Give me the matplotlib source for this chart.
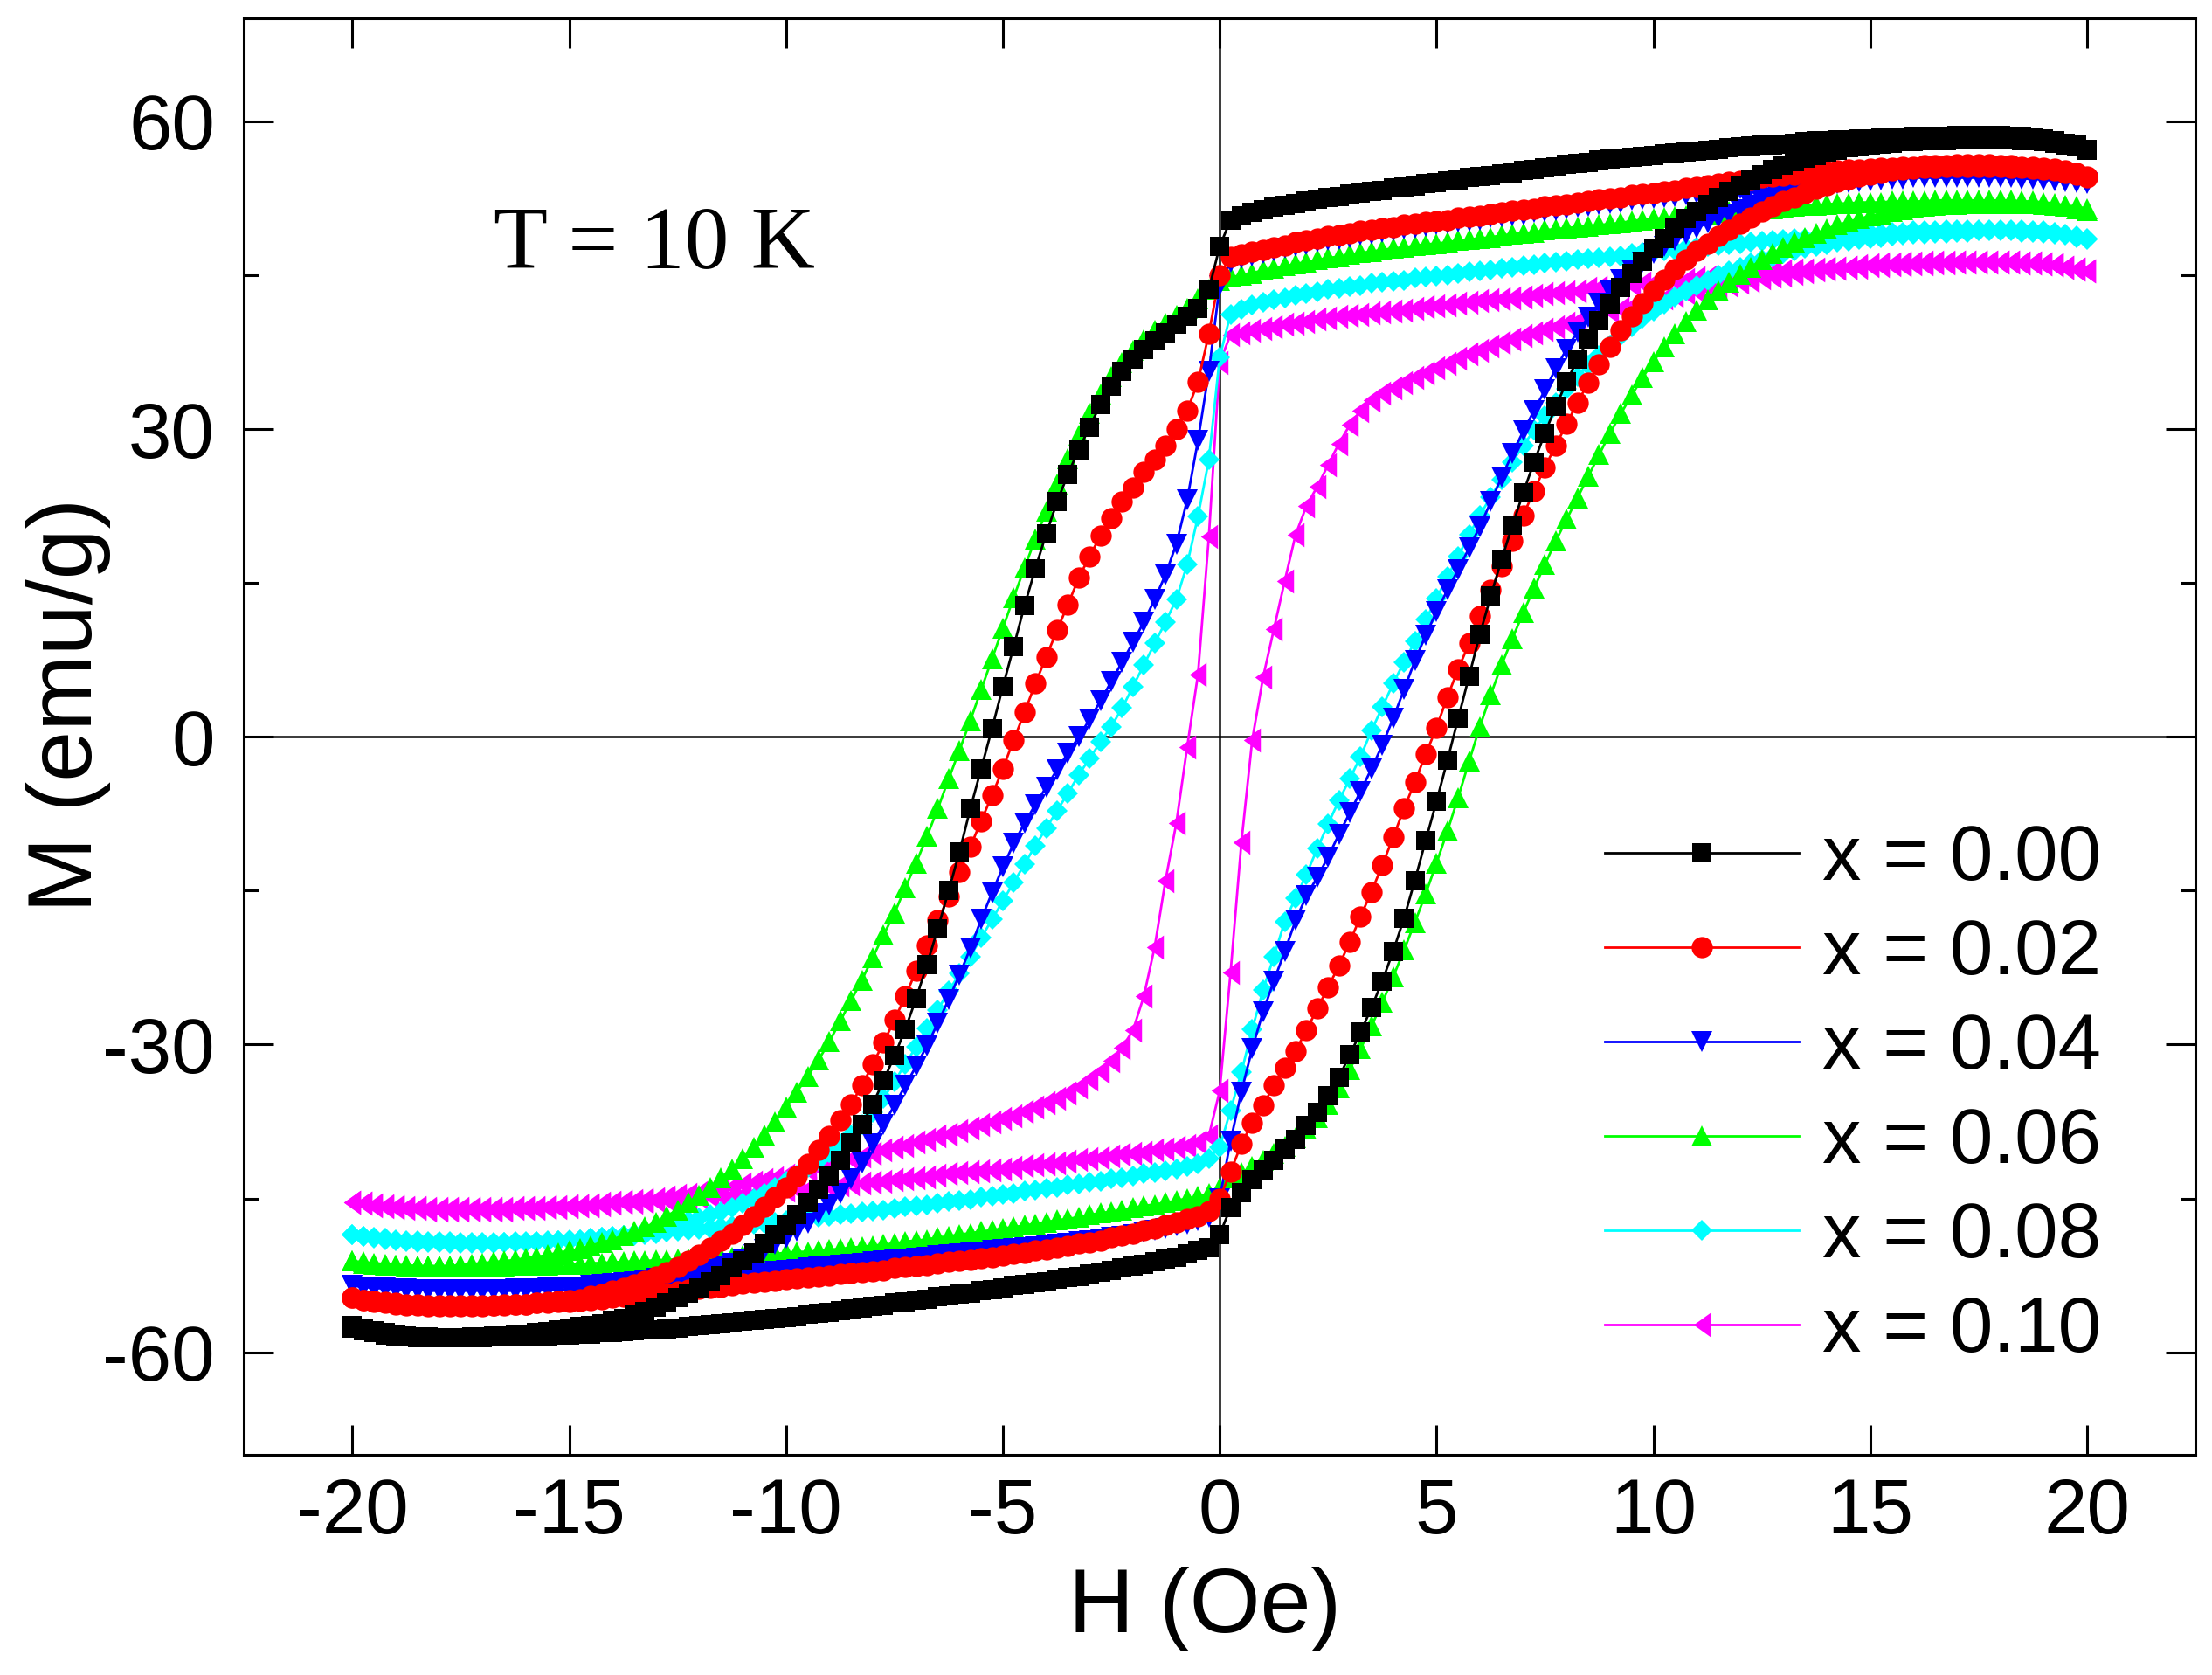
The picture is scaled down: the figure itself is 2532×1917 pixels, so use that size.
import numpy as np
import matplotlib
matplotlib.use('Agg')
import matplotlib.pyplot as plt
from matplotlib.ticker import MultipleLocator

# field sweep, 0.25 Oe steps from -20 to 20 Oe
H_STEP = 0.25
field = np.arange(-20, 20 + H_STEP / 2, H_STEP)

# M (emu/g) on the descending (dn) and ascending (up) branch, listed for increasing H
m000_dn = [
    -57.6, -57.9, -58.1, -58.3, -58.4, -58.5, -58.6, -58.6,
    -58.6, -58.6, -58.6, -58.5, -58.5, -58.4, -58.4, -58.3,
    -58.2, -58.1, -58.0, -57.8, -57.7, -57.5, -57.4, -57.2,
    -56.9, -56.7, -56.4, -56.0, -55.6, -55.2, -54.7, -54.2,
    -53.7, -53.1, -52.5, -51.8, -51.1, -50.3, -49.4, -48.5,
    -47.6, -46.6, -45.4, -44.1, -42.8, -41.3, -39.6, -37.8,
    -35.8, -33.5, -31.1, -28.5, -25.5, -22.2, -18.7, -15.0,
    -11.2, -7.0, -3.1, 0.8, 4.9, 8.8, 12.8, 16.4,
    19.8, 22.9, 25.6, 28.0, 30.2, 32.4, 34.2, 35.6,
    36.8, 37.8, 38.6, 39.4, 40.2, 41.0, 41.8, 43.6,
    47.8, 50.4, 50.8, 51.1, 51.4, 51.6, 51.8, 52.0,
    52.2, 52.4, 52.6, 52.7, 52.9, 53.0, 53.2, 53.3,
    53.5, 53.6, 53.7, 53.9, 54.0, 54.2, 54.3, 54.5,
    54.6, 54.7, 54.9, 55.0, 55.2, 55.3, 55.5, 55.6,
    55.8, 55.9, 56.0, 56.2, 56.3, 56.4, 56.5, 56.6,
    56.7, 56.8, 56.9, 57.0, 57.1, 57.2, 57.3, 57.4,
    57.5, 57.6, 57.7, 57.7, 57.8, 57.9, 58.0, 58.1,
    58.1, 58.2, 58.2, 58.3, 58.3, 58.4, 58.4, 58.4,
    58.5, 58.5, 58.5, 58.5, 58.6, 58.6, 58.6, 58.6,
    58.6, 58.5, 58.5, 58.4, 58.3, 58.1, 57.9, 57.7,
    57.3]
m000_up = [
    -57.4, -57.7, -57.9, -58.1, -58.3, -58.4, -58.5, -58.5,
    -58.6, -58.6, -58.6, -58.6, -58.6, -58.5, -58.5, -58.5,
    -58.4, -58.4, -58.4, -58.3, -58.3, -58.2, -58.2, -58.1,
    -58.1, -58.0, -57.9, -57.8, -57.8, -57.7, -57.6, -57.5,
    -57.4, -57.3, -57.2, -57.1, -57.0, -56.9, -56.8, -56.7,
    -56.6, -56.5, -56.3, -56.2, -56.1, -55.9, -55.8, -55.7,
    -55.5, -55.4, -55.2, -55.1, -54.9, -54.8, -54.6, -54.5,
    -54.3, -54.2, -54.0, -53.9, -53.7, -53.5, -53.4, -53.2,
    -53.1, -52.9, -52.7, -52.6, -52.4, -52.2, -52.0, -51.8,
    -51.6, -51.4, -51.2, -50.9, -50.7, -50.4, -50.1, -49.8,
    -48.5, -45.9, -44.4, -43.2, -42.2, -41.3, -40.2, -39.2,
    -37.9, -36.6, -35.0, -33.2, -31.0, -28.8, -26.4, -23.8,
    -20.9, -17.7, -14.0, -10.1, -6.3, -2.3, 1.8, 5.9,
    10.0, 13.7, 17.3, 20.6, 23.8, 26.8, 29.6, 32.2,
    34.6, 36.8, 38.8, 40.6, 42.2, 43.8, 45.2, 46.4,
    47.6, 48.6, 49.6, 50.5, 51.2, 51.9, 52.6, 53.2,
    53.8, 54.3, 54.8, 55.3, 55.7, 56.1, 56.4, 56.7,
    57.0, 57.2, 57.4, 57.6, 57.7, 57.8, 57.9, 58.0,
    58.0, 58.1, 58.1, 58.1, 58.2, 58.2, 58.2, 58.2,
    58.2, 58.2, 58.1, 58.1, 58.0, 57.9, 57.7, 57.5,
    57.2]

m002_dn = [
    -54.7, -54.9, -55.1, -55.2, -55.3, -55.4, -55.4, -55.5,
    -55.5, -55.5, -55.5, -55.5, -55.5, -55.4, -55.4, -55.3,
    -55.3, -55.2, -55.1, -55.0, -54.9, -54.8, -54.5, -54.3,
    -54.0, -53.7, -53.4, -53.0, -52.6, -52.2, -51.7, -51.1,
    -50.5, -49.8, -49.1, -48.4, -47.6, -46.7, -45.8, -44.9,
    -43.9, -42.8, -41.6, -40.3, -38.9, -37.4, -35.8, -34.0,
    -31.9, -29.8, -27.6, -25.3, -22.8, -20.3, -17.9, -15.6,
    -13.2, -10.7, -8.2, -5.7, -3.1, -0.3, 2.4, 5.2,
    7.8, 10.4, 12.9, 15.5, 17.6, 19.6, 21.3, 22.9,
    24.3, 25.8, 27.0, 28.4, 30.0, 31.8, 34.6, 39.3,
    45.0, 46.8, 47.0, 47.3, 47.5, 47.7, 47.9, 48.2,
    48.4, 48.6, 48.8, 48.9, 49.1, 49.3, 49.4, 49.6,
    49.7, 49.9, 50.0, 50.2, 50.3, 50.4, 50.6, 50.7,
    50.8, 51.0, 51.1, 51.3, 51.4, 51.5, 51.7, 51.8,
    51.9, 52.1, 52.2, 52.4, 52.5, 52.6, 52.8, 52.9,
    53.0, 53.2, 53.3, 53.5, 53.6, 53.8, 53.9, 54.1,
    54.2, 54.3, 54.5, 54.6, 54.7, 54.8, 54.9, 55.0,
    55.1, 55.2, 55.3, 55.3, 55.4, 55.5, 55.5, 55.6,
    55.6, 55.7, 55.7, 55.7, 55.8, 55.8, 55.8, 55.8,
    55.7, 55.7, 55.6, 55.6, 55.5, 55.4, 55.2, 55.0,
    54.6]
m002_up = [
    -54.7, -54.9, -55.0, -55.1, -55.2, -55.3, -55.3, -55.4,
    -55.4, -55.4, -55.4, -55.4, -55.4, -55.4, -55.3, -55.3,
    -55.3, -55.2, -55.2, -55.1, -55.1, -55.0, -54.9, -54.8,
    -54.7, -54.6, -54.5, -54.4, -54.3, -54.2, -54.1, -53.9,
    -53.8, -53.7, -53.6, -53.5, -53.3, -53.2, -53.1, -53.0,
    -52.9, -52.8, -52.7, -52.6, -52.5, -52.4, -52.3, -52.2,
    -52.1, -52.0, -51.8, -51.7, -51.6, -51.5, -51.3, -51.2,
    -51.1, -51.0, -50.8, -50.7, -50.6, -50.4, -50.3, -50.1,
    -50.0, -49.8, -49.6, -49.4, -49.3, -49.1, -48.8, -48.6,
    -48.4, -48.1, -47.9, -47.6, -47.3, -47.0, -46.7, -46.2,
    -45.0, -42.4, -39.7, -37.6, -35.9, -34.0, -32.3, -30.6,
    -28.6, -26.5, -24.4, -22.3, -20.0, -17.5, -15.1, -12.5,
    -9.8, -7.0, -4.4, -1.7, 0.9, 3.9, 6.6, 9.1,
    11.8, 14.3, 16.6, 19.1, 21.6, 24.0, 26.3, 28.4,
    30.5, 32.6, 34.5, 36.3, 38.0, 39.6, 41.0, 42.3,
    43.5, 44.6, 45.6, 46.5, 47.4, 48.1, 48.8, 49.4,
    50.0, 50.6, 51.2, 51.7, 52.2, 52.6, 53.0, 53.4,
    53.8, 54.1, 54.4, 54.6, 54.8, 55.0, 55.2, 55.3,
    55.4, 55.5, 55.5, 55.6, 55.6, 55.6, 55.6, 55.6,
    55.6, 55.5, 55.5, 55.4, 55.3, 55.2, 55.0, 54.8,
    54.5]

m004_dn = [
    -53.5, -53.6, -53.7, -53.7, -53.8, -53.8, -53.9, -53.9,
    -53.9, -53.9, -53.9, -53.9, -53.9, -53.9, -53.9, -53.8,
    -53.8, -53.8, -53.7, -53.7, -53.6, -53.6, -53.5, -53.4,
    -53.3, -53.2, -53.1, -53.0, -52.8, -52.7, -52.5, -52.3,
    -52.1, -51.9, -51.6, -51.3, -50.9, -50.5, -50.0, -49.5,
    -48.9, -48.2, -47.4, -46.5, -45.6, -44.5, -43.1, -41.5,
    -39.7, -37.8, -35.9, -34.0, -32.1, -30.1, -27.9, -25.6,
    -23.2, -20.6, -17.8, -15.2, -12.7, -10.4, -8.4, -6.6,
    -4.9, -3.2, -1.6, 0.0, 1.7, 3.5, 5.4, 7.3,
    9.2, 11.2, 13.4, 15.8, 18.8, 23.1, 28.9, 35.6,
    44.0, 46.3, 46.6, 46.9, 47.1, 47.4, 47.6, 47.8,
    48.0, 48.2, 48.4, 48.5, 48.7, 48.9, 49.0, 49.2,
    49.3, 49.5, 49.6, 49.8, 49.9, 50.0, 50.2, 50.3,
    50.4, 50.6, 50.7, 50.8, 50.9, 51.1, 51.2, 51.3,
    51.5, 51.6, 51.7, 51.9, 52.0, 52.1, 52.3, 52.4,
    52.5, 52.6, 52.7, 52.8, 53.0, 53.1, 53.2, 53.3,
    53.4, 53.5, 53.6, 53.7, 53.8, 53.9, 54.0, 54.1,
    54.2, 54.3, 54.3, 54.4, 54.5, 54.5, 54.6, 54.6,
    54.6, 54.7, 54.7, 54.7, 54.7, 54.7, 54.7, 54.7,
    54.7, 54.7, 54.6, 54.6, 54.5, 54.4, 54.3, 54.2,
    54.0]
m004_up = [
    -53.5, -53.6, -53.7, -53.8, -53.8, -53.9, -53.9, -54.0,
    -54.0, -54.0, -54.0, -54.0, -54.0, -54.0, -54.0, -54.0,
    -54.0, -54.0, -53.9, -53.9, -53.9, -53.9, -53.8, -53.8,
    -53.7, -53.6, -53.6, -53.5, -53.4, -53.3, -53.2, -53.1,
    -53.0, -52.9, -52.8, -52.6, -52.5, -52.4, -52.3, -52.1,
    -52.0, -51.9, -51.8, -51.7, -51.6, -51.5, -51.4, -51.3,
    -51.2, -51.1, -51.0, -50.9, -50.8, -50.7, -50.6, -50.5,
    -50.4, -50.3, -50.2, -50.1, -50.0, -49.9, -49.8, -49.7,
    -49.6, -49.5, -49.4, -49.2, -49.1, -49.0, -48.8, -48.7,
    -48.5, -48.3, -48.1, -47.9, -47.7, -47.5, -47.2, -46.8,
    -45.0, -39.4, -34.6, -30.4, -26.8, -23.8, -20.9, -17.9,
    -15.5, -13.7, -11.7, -9.5, -7.4, -5.3, -3.1, -0.8,
    1.8, 4.6, 7.4, 9.9, 12.2, 14.3, 16.3, 18.4,
    20.5, 22.9, 25.3, 27.6, 29.8, 31.8, 33.8, 35.9,
    37.8, 39.5, 40.9, 42.3, 43.5, 44.6, 45.5, 46.3,
    47.1, 47.8, 48.4, 49.0, 49.6, 50.1, 50.6, 51.0,
    51.4, 51.8, 52.2, 52.5, 52.8, 53.1, 53.3, 53.5,
    53.7, 53.9, 54.0, 54.1, 54.2, 54.3, 54.4, 54.4,
    54.5, 54.5, 54.5, 54.5, 54.5, 54.5, 54.5, 54.5,
    54.5, 54.5, 54.4, 54.4, 54.3, 54.2, 54.1, 54.0,
    53.9]

m006_dn = [
    -51.1, -51.3, -51.4, -51.5, -51.5, -51.6, -51.6, -51.6,
    -51.6, -51.6, -51.5, -51.4, -51.3, -51.2, -51.1, -51.0,
    -50.8, -50.7, -50.5, -50.3, -50.1, -49.9, -49.6, -49.3,
    -49.0, -48.6, -48.2, -47.8, -47.3, -46.7, -46.1, -45.4,
    -44.7, -43.9, -43.0, -42.1, -41.1, -40.0, -38.8, -37.5,
    -36.1, -34.6, -33.1, -31.5, -29.7, -27.7, -25.7, -23.7,
    -21.5, -19.3, -17.2, -14.7, -12.3, -9.7, -7.0, -4.1,
    -1.3, 1.6, 4.6, 7.6, 10.6, 13.6, 16.5, 19.3,
    22.0, 24.6, 27.1, 29.4, 31.5, 33.4, 35.1, 36.5,
    37.7, 38.7, 39.6, 40.3, 41.1, 41.8, 42.7, 43.6,
    44.5, 44.8, 45.0, 45.2, 45.5, 45.7, 45.9, 46.1,
    46.3, 46.5, 46.7, 46.8, 47.0, 47.2, 47.3, 47.5,
    47.6, 47.7, 47.9, 48.0, 48.1, 48.2, 48.4, 48.5,
    48.6, 48.7, 48.9, 49.0, 49.1, 49.2, 49.4, 49.5,
    49.6, 49.7, 49.8, 49.9, 50.0, 50.1, 50.3, 50.4,
    50.5, 50.6, 50.7, 50.8, 50.9, 51.0, 51.1, 51.2,
    51.3, 51.4, 51.5, 51.5, 51.6, 51.7, 51.8, 51.8,
    51.9, 52.0, 52.0, 52.1, 52.1, 52.1, 52.2, 52.2,
    52.2, 52.2, 52.3, 52.3, 52.3, 52.3, 52.3, 52.3,
    52.3, 52.3, 52.2, 52.2, 52.1, 52.0, 51.8, 51.7,
    51.5]
m006_up = [
    -51.1, -51.2, -51.3, -51.4, -51.5, -51.5, -51.6, -51.6,
    -51.6, -51.6, -51.6, -51.6, -51.6, -51.6, -51.6, -51.5,
    -51.5, -51.5, -51.5, -51.4, -51.4, -51.4, -51.3, -51.3,
    -51.2, -51.2, -51.1, -51.1, -51.0, -51.0, -50.9, -50.9,
    -50.8, -50.8, -50.7, -50.7, -50.6, -50.5, -50.5, -50.4,
    -50.3, -50.2, -50.2, -50.1, -50.0, -49.9, -49.8, -49.7,
    -49.6, -49.5, -49.4, -49.2, -49.1, -49.0, -48.8, -48.7,
    -48.5, -48.4, -48.2, -48.1, -47.9, -47.8, -47.6, -47.5,
    -47.3, -47.1, -47.0, -46.8, -46.6, -46.4, -46.3, -46.1,
    -45.9, -45.7, -45.6, -45.4, -45.2, -45.0, -44.8, -44.5,
    -44.0, -43.0, -42.5, -41.9, -41.3, -40.6, -39.9, -39.1,
    -38.2, -37.1, -35.8, -34.2, -32.4, -30.4, -28.2, -25.9,
    -23.4, -20.8, -18.1, -15.3, -12.3, -9.2, -5.9, -2.4,
    1.0, 4.1, 7.0, 9.6, 12.1, 14.5, 16.8, 19.1,
    21.2, 23.3, 25.4, 27.5, 29.6, 31.5, 33.3, 35.0,
    36.6, 38.0, 39.3, 40.5, 41.6, 42.6, 43.5, 44.3,
    45.1, 45.8, 46.5, 47.1, 47.7, 48.2, 48.7, 49.1,
    49.5, 49.9, 50.2, 50.5, 50.8, 51.0, 51.2, 51.4,
    51.6, 51.7, 51.8, 51.9, 51.9, 52.0, 52.0, 52.0,
    52.0, 52.0, 52.0, 52.0, 51.9, 51.8, 51.7, 51.5,
    51.3]

m008_dn = [
    -48.5, -48.7, -48.9, -49.0, -49.1, -49.2, -49.3, -49.3,
    -49.3, -49.4, -49.4, -49.4, -49.4, -49.4, -49.3, -49.3,
    -49.3, -49.2, -49.2, -49.1, -49.1, -49.0, -48.9, -48.8,
    -48.7, -48.6, -48.4, -48.2, -48.0, -47.8, -47.5, -47.2,
    -46.9, -46.6, -46.3, -45.9, -45.5, -45.0, -44.5, -43.9,
    -43.3, -42.7, -42.0, -41.3, -40.5, -39.7, -38.8, -37.8,
    -36.6, -35.2, -33.6, -31.9, -30.2, -28.4, -26.6, -24.8,
    -23.1, -21.4, -19.6, -17.8, -16.0, -14.2, -12.4, -10.6,
    -8.9, -7.2, -5.5, -3.7, -2.1, -0.5, 1.0, 2.8,
    4.9, 7.0, 9.1, 11.2, 13.4, 16.8, 21.5, 27.0,
    37.0, 41.2, 41.7, 42.1, 42.4, 42.6, 42.8, 43.0,
    43.2, 43.4, 43.6, 43.7, 43.9, 44.0, 44.2, 44.3,
    44.4, 44.5, 44.7, 44.8, 44.9, 45.0, 45.2, 45.3,
    45.4, 45.5, 45.7, 45.8, 45.9, 46.0, 46.2, 46.3,
    46.4, 46.5, 46.6, 46.7, 46.8, 46.9, 47.1, 47.2,
    47.3, 47.4, 47.5, 47.6, 47.7, 47.8, 47.9, 48.0,
    48.1, 48.2, 48.3, 48.4, 48.5, 48.6, 48.6, 48.7,
    48.8, 48.9, 48.9, 49.0, 49.1, 49.1, 49.2, 49.2,
    49.3, 49.3, 49.3, 49.4, 49.4, 49.4, 49.4, 49.4,
    49.4, 49.4, 49.4, 49.3, 49.3, 49.2, 49.0, 48.8,
    48.6]
m008_up = [
    -48.5, -48.7, -48.8, -48.9, -49.0, -49.1, -49.1, -49.2,
    -49.2, -49.2, -49.3, -49.3, -49.3, -49.3, -49.3, -49.2,
    -49.2, -49.2, -49.1, -49.1, -49.0, -49.0, -48.9, -48.8,
    -48.7, -48.6, -48.6, -48.5, -48.4, -48.3, -48.2, -48.1,
    -48.0, -47.9, -47.8, -47.7, -47.6, -47.5, -47.4, -47.3,
    -47.2, -47.1, -46.9, -46.8, -46.7, -46.6, -46.5, -46.3,
    -46.2, -46.1, -46.0, -45.8, -45.7, -45.6, -45.5, -45.3,
    -45.2, -45.1, -44.9, -44.8, -44.6, -44.5, -44.3, -44.2,
    -44.0, -43.9, -43.7, -43.6, -43.4, -43.3, -43.1, -43.0,
    -42.8, -42.6, -42.5, -42.3, -42.1, -41.9, -41.6, -41.1,
    -40.0, -36.4, -32.7, -28.5, -24.7, -21.4, -18.0, -15.7,
    -13.4, -10.9, -8.5, -6.2, -4.1, -1.9, 0.6, 2.9,
    5.2, 7.3, 9.3, 11.4, 13.5, 15.6, 17.6, 19.7,
    21.6, 23.4, 25.1, 26.8, 28.4, 29.9, 31.3, 32.6,
    33.9, 35.1, 36.2, 37.2, 38.2, 39.1, 40.0, 40.8,
    41.5, 42.2, 42.9, 43.5, 44.0, 44.5, 45.0, 45.4,
    45.8, 46.2, 46.5, 46.8, 47.1, 47.4, 47.6, 47.8,
    48.0, 48.2, 48.3, 48.5, 48.6, 48.7, 48.8, 48.9,
    49.0, 49.0, 49.1, 49.1, 49.2, 49.2, 49.3, 49.3,
    49.3, 49.3, 49.2, 49.2, 49.1, 49.0, 48.9, 48.7,
    48.5]

m010_dn = [
    -45.4, -45.5, -45.6, -45.7, -45.8, -45.9, -45.9, -46.0,
    -46.0, -46.0, -46.0, -46.0, -46.0, -46.0, -46.0, -45.9,
    -45.9, -45.9, -45.8, -45.8, -45.7, -45.7, -45.6, -45.5,
    -45.4, -45.3, -45.2, -45.1, -45.0, -44.9, -44.7, -44.6,
    -44.4, -44.2, -44.0, -43.8, -43.6, -43.4, -43.2, -43.0,
    -42.7, -42.5, -42.2, -42.0, -41.7, -41.4, -41.1, -40.9,
    -40.6, -40.3, -40.0, -39.8, -39.5, -39.2, -38.9, -38.7,
    -38.4, -38.1, -37.8, -37.5, -37.2, -36.9, -36.5, -36.1,
    -35.7, -35.2, -34.7, -34.1, -33.4, -32.6, -31.6, -30.3,
    -28.6, -25.3, -20.5, -14.0, -8.4, -1.0, 6.1, 19.5,
    36.5, 39.2, 39.4, 39.6, 39.8, 40.0, 40.2, 40.3,
    40.5, 40.7, 40.8, 41.0, 41.1, 41.2, 41.3, 41.4,
    41.5, 41.6, 41.8, 41.9, 42.0, 42.1, 42.3, 42.4,
    42.5, 42.6, 42.7, 42.8, 42.9, 43.0, 43.2, 43.3,
    43.4, 43.5, 43.7, 43.8, 43.9, 44.0, 44.1, 44.2,
    44.3, 44.4, 44.5, 44.6, 44.7, 44.8, 44.9, 45.0,
    45.1, 45.2, 45.2, 45.3, 45.4, 45.5, 45.5, 45.6,
    45.7, 45.7, 45.8, 45.8, 45.9, 45.9, 46.0, 46.0,
    46.1, 46.1, 46.2, 46.2, 46.3, 46.3, 46.3, 46.3,
    46.3, 46.3, 46.2, 46.2, 46.1, 46.0, 45.8, 45.6,
    45.4]
m010_up = [
    -45.4, -45.5, -45.7, -45.8, -45.9, -46.0, -46.0, -46.1,
    -46.1, -46.1, -46.1, -46.1, -46.1, -46.1, -46.1, -46.0,
    -46.0, -46.0, -45.9, -45.9, -45.8, -45.7, -45.7, -45.6,
    -45.5, -45.4, -45.4, -45.3, -45.2, -45.1, -45.1, -45.0,
    -44.9, -44.8, -44.8, -44.7, -44.6, -44.5, -44.4, -44.3,
    -44.2, -44.1, -44.0, -43.9, -43.8, -43.7, -43.6, -43.5,
    -43.4, -43.3, -43.2, -43.1, -43.0, -42.9, -42.7, -42.6,
    -42.5, -42.4, -42.3, -42.2, -42.1, -42.0, -41.8, -41.7,
    -41.6, -41.5, -41.4, -41.2, -41.1, -41.0, -40.9, -40.7,
    -40.6, -40.5, -40.3, -40.2, -40.0, -39.8, -39.5, -38.9,
    -34.5, -23.0, -10.3, -0.3, 5.8, 10.5, 15.2, 19.7,
    22.5, 24.4, 26.5, 28.6, 30.4, 31.8, 32.8, 33.5,
    34.0, 34.5, 35.0, 35.5, 36.0, 36.4, 36.9, 37.3,
    37.7, 38.1, 38.4, 38.8, 39.1, 39.4, 39.7, 40.0,
    40.3, 40.6, 40.9, 41.2, 41.5, 41.8, 42.0, 42.3,
    42.5, 42.8, 43.0, 43.3, 43.5, 43.7, 43.9, 44.1,
    44.3, 44.5, 44.7, 44.9, 45.0, 45.2, 45.3, 45.5,
    45.6, 45.7, 45.8, 45.9, 46.0, 46.1, 46.1, 46.2,
    46.2, 46.3, 46.3, 46.3, 46.3, 46.3, 46.3, 46.3,
    46.3, 46.3, 46.2, 46.2, 46.1, 46.0, 45.8, 45.6,
    45.4]

labels = ['x = 0.00', 'x = 0.02', 'x = 0.04', 'x = 0.06', 'x = 0.08', 'x = 0.10']
branches_dn = [m000_dn, m002_dn, m004_dn, m006_dn, m008_dn, m010_dn]
branches_up = [m000_up, m002_up, m004_up, m006_up, m008_up, m010_up]

colors = ['#000000', '#ff0000', '#0000ff', '#00ff00', '#00ffff', '#ff00ff']
# left-pointing triangle a bit taller than wide, like the original symbol
left_tri = [(-0.7, 0.0), (0.7, 1.0), (0.7, -1.0)]
markers = ['s', 'o', 'v', '^', 'D', left_tri]
msizes = [16.5, 17.5, 17, 17, 12.5, 20]

for b in branches_dn + branches_up:
    if len(b) != len(field):
        raise ValueError('branch length %d != %d' % (len(b), len(field)))

plt.rcParams['font.family'] = ['Liberation Sans', 'DejaVu Sans']
plt.rcParams['axes.unicode_minus'] = False

fig = plt.figure(figsize=(25.32, 19.17), dpi=100)
ax = fig.add_axes([0.1103, 0.1314, 0.8822, 0.8574])

ax.axhline(0, color='k', lw=1.8, zorder=0.5)
ax.axvline(0, color='k', lw=1.8, zorder=0.5)

for i in range(len(labels)):
    z = 10 - i
    style = dict(color=colors[i], marker=markers[i], ms=msizes[i], mew=0, lw=2.0, zorder=z)
    ax.plot(field, branches_dn[i], label=labels[i], **style)
    ax.plot(field, branches_up[i], **style)

ax.set_xlim(-22.5, 22.5)
ax.set_ylim(-70, 70)
ax.xaxis.set_major_locator(MultipleLocator(5))
ax.yaxis.set_major_locator(MultipleLocator(30))
ax.yaxis.set_minor_locator(MultipleLocator(15))
ax.tick_params(which='both', direction='in', top=True, right=True, width=2.2)
ax.tick_params(which='major', length=24.5)
ax.tick_params(which='minor', length=12)
ax.tick_params(axis='x', labelsize=64, pad=18)
ax.tick_params(axis='y', labelsize=64, pad=24)
for sp in ax.spines.values():
    sp.set_linewidth(2.2)

ax.set_xlabel('H (Oe)', fontsize=75)
ax.set_ylabel('M (emu/g)', fontsize=75)
ax.xaxis.set_label_coords(0.4923, -0.078)
ax.yaxis.set_label_coords(-0.068, 0.522)

ax.text(-16.75, 45.8, 'T = 10 K', fontsize=73, ha='left', va='baseline',
        family=['Liberation Serif', 'DejaVu Serif'])

ax.legend(loc='center left', bbox_to_anchor=(0.6974, 0.250), frameon=False,
          fontsize=64, handlelength=2.5, handletextpad=0.3, labelspacing=0.27,
          borderpad=0, borderaxespad=0, numpoints=1)

fig.savefig('out.png', dpi=100)
